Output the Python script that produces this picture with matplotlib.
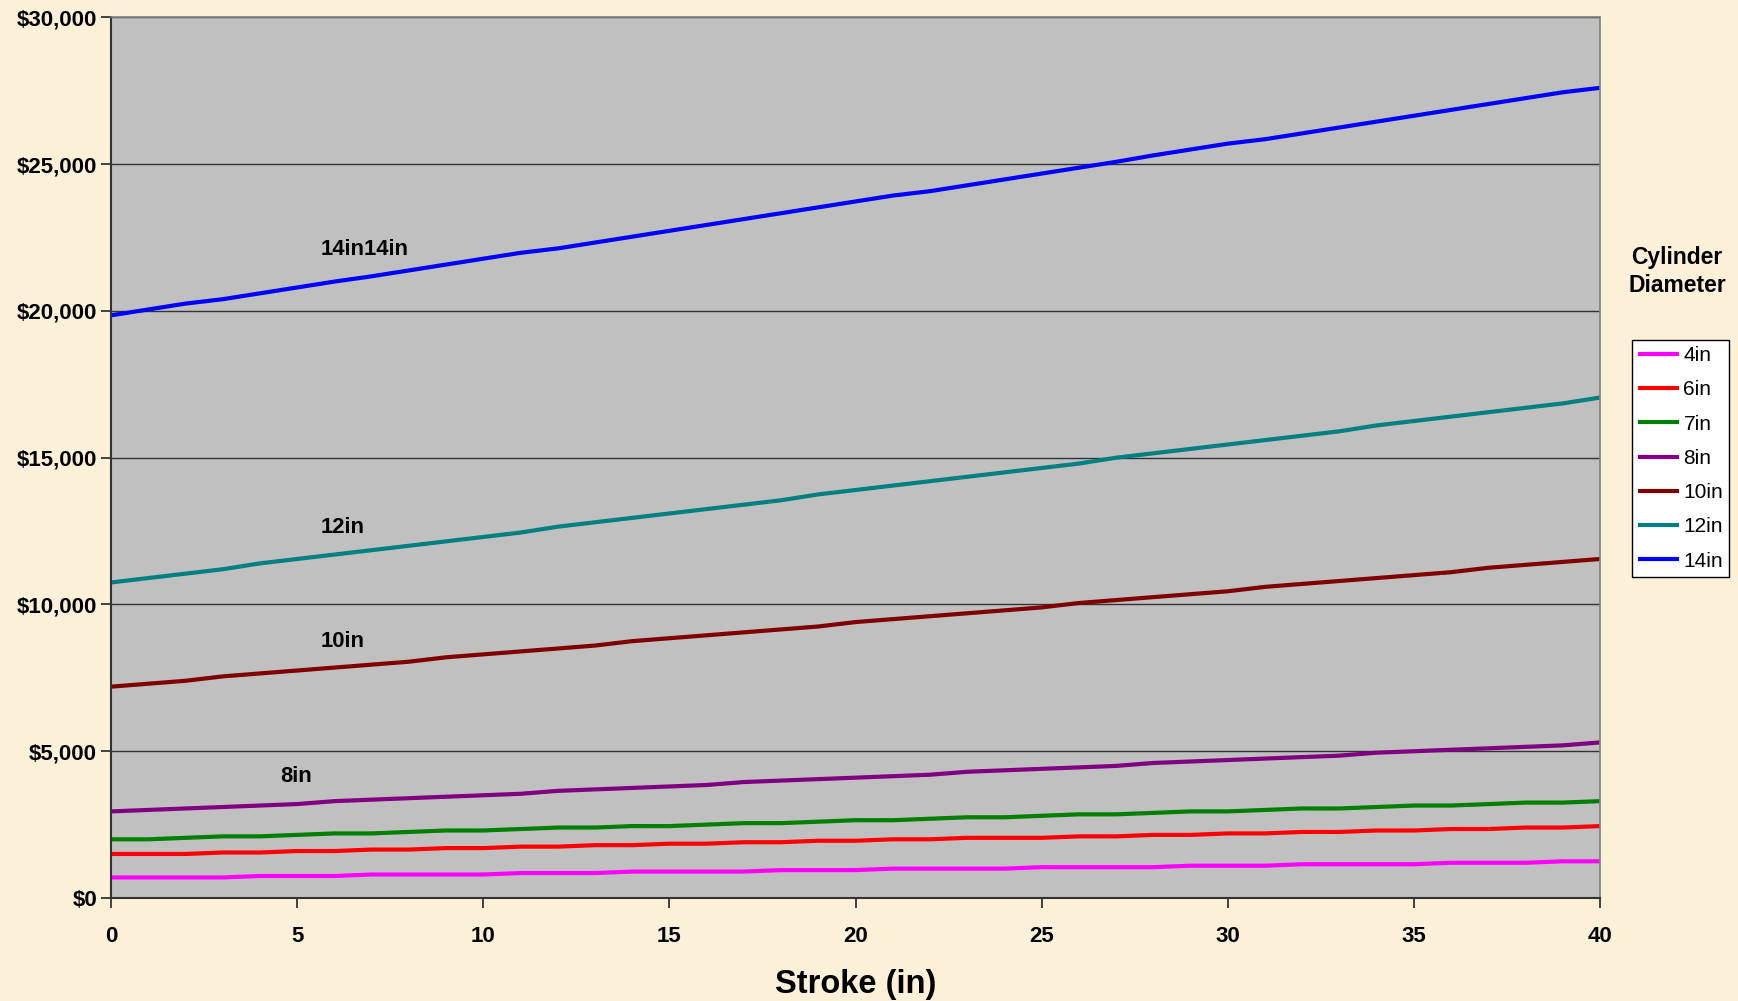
import matplotlib
matplotlib.use("Agg")
import matplotlib.pyplot as plt
from matplotlib.ticker import FuncFormatter, MultipleLocator

stroke = list(range(0, 41))

s4 = [700, 700, 700, 700, 750, 750, 750, 800, 800, 800, 800, 850, 850, 850, 900, 900, 900, 900, 950, 950,
      950, 1000, 1000, 1000, 1000, 1050, 1050, 1050, 1050, 1100, 1100, 1100, 1150, 1150, 1150, 1150, 1200, 1200, 1200, 1250, 1250]
s6 = [1500, 1500, 1500, 1550, 1550, 1600, 1600, 1650, 1650, 1700, 1700, 1750, 1750, 1800, 1800, 1850, 1850, 1900, 1900, 1950,
      1950, 2000, 2000, 2050, 2050, 2050, 2100, 2100, 2150, 2150, 2200, 2200, 2250, 2250, 2300, 2300, 2350, 2350, 2400, 2400, 2450]
s7 = [2000, 2000, 2050, 2100, 2100, 2150, 2200, 2200, 2250, 2300, 2300, 2350, 2400, 2400, 2450, 2450, 2500, 2550, 2550, 2600,
      2650, 2650, 2700, 2750, 2750, 2800, 2850, 2850, 2900, 2950, 2950, 3000, 3050, 3050, 3100, 3150, 3150, 3200, 3250, 3250, 3300]
s8 = [2950, 3000, 3050, 3100, 3150, 3200, 3300, 3350, 3400, 3450, 3500, 3550, 3650, 3700, 3750, 3800, 3850, 3950, 4000, 4050,
      4100, 4150, 4200, 4300, 4350, 4400, 4450, 4500, 4600, 4650, 4700, 4750, 4800, 4850, 4950, 5000, 5050, 5100, 5150, 5200, 5300]
s10 = [7200, 7300, 7400, 7550, 7650, 7750, 7850, 7950, 8050, 8200, 8300, 8400, 8500, 8600, 8750, 8850, 8950, 9050, 9150, 9250,
       9400, 9500, 9600, 9700, 9800, 9900, 10050, 10150, 10250, 10350, 10450, 10600, 10700, 10800, 10900, 11000, 11100, 11250, 11350, 11450, 11550]
s12 = [10750, 10900, 11050, 11200, 11400, 11550, 11700, 11850, 12000, 12150, 12300, 12450, 12650, 12800, 12950, 13100, 13250, 13400, 13550, 13750,
       13900, 14050, 14200, 14350, 14500, 14650, 14800, 15000, 15150, 15300, 15450, 15600, 15750, 15900, 16100, 16250, 16400, 16550, 16700, 16850, 17050]
s14 = [19850, 20050, 20250, 20400, 20600, 20800, 21000, 21180, 21380, 21580, 21780, 21980, 22130, 22330, 22530, 22730, 22930, 23130, 23330, 23530,
       23730, 23930, 24080, 24280, 24480, 24680, 24880, 25080, 25300, 25500, 25700, 25850, 26050, 26250, 26450, 26650, 26850, 27050, 27250, 27450, 27600]

labels = ["4in", "6in", "7in", "8in", "10in", "12in", "14in"]
series = [s4, s6, s7, s8, s10, s12, s14]
colors = ["#FF00FF", "#FF0000", "#008000", "#800080", "#800000", "#008080", "#0000FF"]

annot_text = ["14in14in", "12in", "10in", "8in"]
annot_x = [5.63, 5.63, 5.63, 4.55]
annot_y = [22080, 12630, 8730, 4130]

plt.rcParams['font.family'] = ['Liberation Sans', 'DejaVu Sans']

fig = plt.figure(figsize=(17.38, 10.01), dpi=100)
fig.patch.set_facecolor("#FCF0D8")
ax = fig.add_axes([0.0639, 0.1029, 0.8567, 0.8797])
ax.set_facecolor("#C0C0C0")

for vals, lab, col in zip(series, labels, colors):
    ax.plot(stroke, vals, color=col, lw=3, label=lab, solid_capstyle='butt')

for t, x, y in zip(annot_text, annot_x, annot_y):
    ax.text(x, y, t, fontsize=15.8, fontweight='bold', ha='left', va='center', color='black')

ax.set_xlim(0, 40)
ax.set_ylim(0, 30000)
ax.xaxis.set_major_locator(MultipleLocator(5))
ax.yaxis.set_major_locator(MultipleLocator(5000))
ax.yaxis.set_major_formatter(FuncFormatter(lambda v, p: "${:,.0f}".format(v)))
ax.grid(axis='y', color='#333333', lw=1)
ax.set_axisbelow(True)

for sp in ['top', 'right']:
    ax.spines[sp].set_color('#808080')
    ax.spines[sp].set_linewidth(1.2)
for sp in ['left', 'bottom']:
    ax.spines[sp].set_color('#333333')
    ax.spines[sp].set_linewidth(1.5)

ax.tick_params(axis='both', direction='out', length=7, width=1.3, color='#333333',
               labelsize=16)
ax.tick_params(axis='x', pad=13)
ax.tick_params(axis='y', pad=3)
for lbl in ax.get_xticklabels() + ax.get_yticklabels():
    lbl.set_fontweight('bold')

ax.set_xlabel("Stroke (in)", fontsize=23.5, fontweight='bold', labelpad=16)

fig.text(0.965, 0.7287, "Cylinder\nDiameter", fontsize=16.5, fontweight='bold',
         ha='center', va='center', linespacing=1.26)

leg = ax.legend(loc='upper left', bbox_to_anchor=(0.939, 0.6603), bbox_transform=fig.transFigure,
                fontsize=15, frameon=True, fancybox=False, edgecolor='black',
                facecolor='white', framealpha=1, handlelength=1.97, handletextpad=0.2,
                labelspacing=0.73, borderpad=0.3, borderaxespad=0)
leg.get_frame().set_linewidth(1)

fig.savefig("out.png", dpi=100, facecolor=fig.get_facecolor())
